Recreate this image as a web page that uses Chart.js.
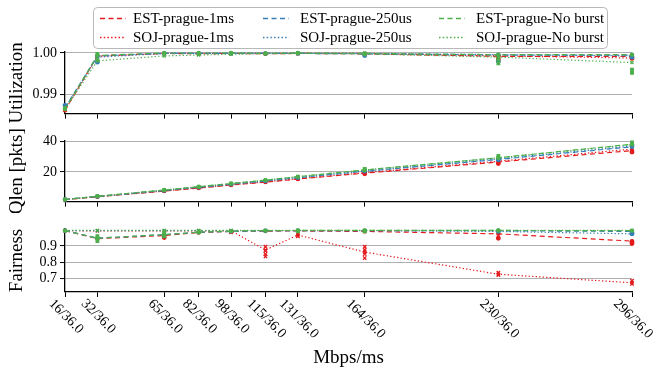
<!DOCTYPE html>
<html>
<head>
<meta charset="utf-8">
<script src="https://cdn.jsdelivr.net/npm/chart.js@4.4.1/dist/chart.umd.min.js"></script>
<style>
  html,body{margin:0;padding:0;background:#fff;}
  body{width:664px;height:381px;position:relative;overflow:hidden;}
  canvas{position:absolute;left:0;}
</style>
</head>
<body>
<canvas id="c1" width="664" height="125" style="top:0"></canvas>
<canvas id="c2" width="664" height="88" style="top:125px"></canvas>
<canvas id="c3" width="664" height="168" style="top:213px"></canvas>
<script>
// ---------------- data ----------------
const xVals   = [16, 32, 65, 82, 98, 115, 131, 164, 230, 296];
const xLabels = ['16/36.0','32/36.0','65/36.0','82/36.0','98/36.0','115/36.0','131/36.0','164/36.0','230/36.0','296/36.0'];
const seriesNames = ['EST-prague-1ms','EST-prague-250us','EST-prague-No burst','SOJ-prague-1ms','SOJ-prague-250us','SOJ-prague-No burst'];

// Utilization
const utilEst1ms   = [0.9862, 0.9993, 0.9999, 0.9998, 0.9999, 0.9998, 0.9999, 0.9998, 0.9992, 0.9992];
const utilEst250us = [0.9868, 0.9993, 0.9999, 0.9999, 0.9999, 0.9999, 0.9999, 0.9998, 0.9995, 0.9995];
const utilEstNB    = [0.9865, 0.9994, 1.0000, 1.0000, 1.0000, 0.9999, 1.0000, 0.9999, 0.9996, 0.9996];
const utilSoj1ms   = [0.9862, 0.9992, 0.9999, 0.9999, 0.9999, 0.9999, 0.9999, 0.9999, 0.9993, 0.9988];
const utilSoj250us = [0.9868, 0.9990, 0.9999, 0.9999, 0.9999, 0.9999, 0.9999, 0.9999, 0.9996, 0.9993];
const utilSojNB    = [0.9865, 0.9981, 0.9993, 0.9995, 0.9997, 0.9998, 0.9999, 0.9998, 0.9990, 0.9977];

// Queue length [pkts]
const qlenEst1ms   = [1.8, 3.7, 7.4, 9.4, 11.4, 13.3, 15.3, 19.2, 26.5, 34.0];
const qlenEst250us = [1.9, 3.9, 7.8, 9.9, 11.9, 14.0, 16.2, 20.4, 28.2, 36.5];
const qlenEstNB    = [1.9, 4.0, 8.1, 10.3, 12.4, 14.6, 16.9, 21.3, 29.3, 38.2];
const qlenSoj1ms   = [1.8, 3.7, 7.5, 9.5, 11.5, 13.5, 15.5, 19.5, 27.0, 35.0];
const qlenSoj250us = [1.9, 3.9, 7.9, 10.0, 12.0, 14.1, 16.3, 20.6, 28.5, 37.0];
const qlenSojNB    = [1.9, 4.0, 8.1, 10.3, 12.4, 14.6, 16.9, 21.3, 29.3, 38.0];

// Fairness
const fairEst1ms   = [0.995, 0.945, 0.965, 0.983, 0.990, 0.992, 0.993, 0.990, 0.975, 0.930];
const fairEst250us = [0.995, 0.948, 0.970, 0.985, 0.990, 0.994, 0.995, 0.995, 0.994, 0.990];
const fairEstNB    = [0.995, 0.948, 0.970, 0.985, 0.992, 0.995, 0.996, 0.996, 0.996, 0.995];
const fairSoj1ms   = [0.995, 0.993, 0.993, 0.994, 0.994, 0.875, 0.968, 0.862, 0.725, 0.672];
const fairSoj250us = [0.995, 0.995, 0.995, 0.995, 0.995, 0.995, 0.995, 0.995, 0.990, 0.975];
const fairSojNB    = [0.996, 0.996, 0.996, 0.996, 0.996, 0.996, 0.996, 0.996, 0.996, 0.996];

// individual run values (scattered markers), one list per x category
const utilRunsNB   = [[0.9868], [0.9983, 0.9998], [], [], [], [], [], [0.9997], [0.9975, 0.9985], [0.9952, 0.9960]];
const utilRuns250  = [[0.9874], [0.9978], [], [], [], [], [], [0.9994], [0.9980], [0.9990]];
const utilRuns1ms  = [[], [], [], [], [], [], [], [], [0.9985], [0.9987]];
const qlenRunsNB   = [[], [], [], [], [], [], [], [22.0], [30.5], [39.3]];
const qlenRuns250  = [[], [], [], [], [], [], [], [], [28.0], [37.5]];
const qlenRuns1ms  = [[], [], [], [], [], [], [], [18.8], [25.5], [33.0]];
const fairRunsNB   = [[], [0.93, 0.96], [0.96, 0.985], [0.99], [], [], [0.99], [0.99], [], []];
const fairRuns250  = [[], [], [], [], [], [], [], [], [0.99], [0.975, 0.98]];
const fairRunsEst1 = [[], [], [0.952], [], [], [], [], [], [0.948], [0.915, 0.925]];
const fairRunsSoj1 = [[], [], [], [], [0.985], [0.895, 0.87, 0.85, 0.835], [0.975, 0.96], [0.895, 0.875, 0.85, 0.825], [0.735, 0.72], [0.685, 0.665]];

// y ticks
const utilTicks = [0.99, 1.00];
const qlenTicks = [20, 40];
const fairTicks = [0.7, 0.8, 0.9];

// ---------------- styling ----------------
const RED = '#e41a1c', BLUE = '#377eb8', GREEN = '#4daf4a';
const SERIF = '"Liberation Serif", "DejaVu Serif", serif';
const DASH = [5, 3.5];
const DOT = [1.3, 2.2];

function pts(arr){ return arr.map((v,i)=>({x:xVals[i], y:v})); }
function runPts(runs){ const o=[]; runs.forEach((l,i)=>l.forEach(v=>o.push({x:xVals[i], y:v}))); return o; }

function lineDs(data, color, est, order){
  return {
    type:'line', data:pts(data), borderColor:color, backgroundColor:color,
    borderWidth:1.2, borderDash: est ? DASH : DOT, fill:false, tension:0,
    pointRadius: est ? 1.6 : 2.2, pointStyle: est ? 'circle' : 'crossRot',
    pointBorderWidth: 1.2, pointBorderColor:color, pointBackgroundColor:color,
    order: order, clip:false
  };
}
function runDs(runs, color, style, order){
  return {
    type:'scatter', data:runPts(runs), borderColor:color, backgroundColor:color,
    pointRadius: style==='crossRot'?2.4:1.8, pointStyle:style, pointBorderWidth:1.3,
    showLine:false, order:order, clip:false
  };
}

function makeOptions(yMin, yMax, yTicks, yTitle, fmt, padTop, xHeight){
  return {
    responsive:false, animation:false, devicePixelRatio:1,
    layout:{padding:{top:padTop, right:32, left:0, bottom:0}},
    plugins:{legend:{display:false}, tooltip:{enabled:false}},
    scales:{
      x:{
        type:'linear', min:16, max:296,
        afterBuildTicks(s){ s.ticks = xVals.map(v=>({value:v})); },
        afterFit(s){ s.height = xHeight; },
        ticks:{display:false},
        grid:{drawOnChartArea:false, drawTicks:true, tickLength:5, color:'#000', tickWidth:1},
        border:{display:true, color:'#000', width:1.3}
      },
      y:{
        min:yMin, max:yMax,
        afterBuildTicks(s){ s.ticks = yTicks.map(v=>({value:v})); },
        afterFit(s){ s.width = 65; },
        ticks:{font:{family:SERIF, size:14}, color:'#000', padding:3, callback:fmt},
        grid:{color:'#b0b0b0', lineWidth:1.1, drawTicks:true, tickLength:5, tickColor:'#000', tickWidth:1},
        border:{display:true, color:'#000', width:1.3},
        title:{display:true, text:yTitle, font:{family:SERIF, size:19}, color:'#000', padding:{top:6, bottom:0}}
      }
    }
  };
}

// legend drawn onto the top chart
const legendPlugin = {
  id:'boxLegend',
  afterDraw(chart){
    const ctx = chart.ctx;
    ctx.save();
    const bx=93.5, by=7.5, bw=514, bh=41, r=4;
    ctx.beginPath();
    ctx.moveTo(bx+r,by); ctx.lineTo(bx+bw-r,by); ctx.quadraticCurveTo(bx+bw,by,bx+bw,by+r);
    ctx.lineTo(bx+bw,by+bh-r); ctx.quadraticCurveTo(bx+bw,by+bh,bx+bw-r,by+bh);
    ctx.lineTo(bx+r,by+bh); ctx.quadraticCurveTo(bx,by+bh,bx,by+bh-r);
    ctx.lineTo(bx,by+r); ctx.quadraticCurveTo(bx,by,bx+r,by); ctx.closePath();
    ctx.fillStyle='rgba(255,255,255,0.85)'; ctx.fill();
    ctx.strokeStyle='#b8b8b8'; ctx.lineWidth=1; ctx.stroke();
    const colors=[RED,BLUE,GREEN,RED,BLUE,GREEN];
    const sx=[100,263,439], tx=[133,300,476], ry=[18.5,37.5];
    ctx.font='15px '+SERIF; ctx.textBaseline='middle'; ctx.textAlign='left';
    seriesNames.forEach((n,i)=>{
      const col=i%3, row=Math.floor(i/3);
      ctx.save();
      ctx.strokeStyle=colors[i]; ctx.lineWidth=row===0?1.3:1.5;
      ctx.setLineDash(row===0?DASH:[1.5,2.2]);
      ctx.beginPath(); ctx.moveTo(sx[col], ry[row]); ctx.lineTo(sx[col]+26, ry[row]); ctx.stroke();
      ctx.restore();
      ctx.fillStyle='#000'; ctx.fillText(n, tx[col], ry[row]+0.5);
    });
    ctx.restore();
  }
};

// rotated x tick labels + x title on the bottom chart
const xLabelPlugin = {
  id:'xLabels',
  afterDraw(chart){
    const ctx = chart.ctx, xs = chart.scales.x;
    ctx.save();
    ctx.fillStyle='#000';
    ctx.font='14px '+SERIF;
    ctx.textAlign='center'; ctx.textBaseline='middle';
    xVals.forEach((v,i)=>{
      const px = xs.getPixelForValue(v);
      const w = ctx.measureText(xLabels[i]).width, h = 10;
      const d = (w+h)*Math.SQRT1_2;
      ctx.save();
      ctx.translate(px+1, xs.top + 6 + d/2);
      ctx.rotate(Math.PI/4);
      ctx.fillText(xLabels[i], 0, 0);
      ctx.restore();
    });
    ctx.font='19px '+SERIF;
    ctx.fillText('Mbps/ms', (chart.chartArea.left+chart.chartArea.right)/2, chart.chartArea.bottom + 66);
    ctx.restore();
  }
};

function datasets(e1,e2,e3,s1,s2,s3, rNB, r250, r1a, r1b){
  const ds = [
    lineDs(e3, GREEN, true, 0), lineDs(s3, GREEN, false, 0),
    lineDs(e2, BLUE, true, 1), lineDs(s2, BLUE, false, 1),
    lineDs(e1, RED, true, 2), lineDs(s1, RED, false, 2),
    runDs(rNB, GREEN, 'rect', 0), runDs(r250, BLUE, 'circle', 1)
  ];
  if(r1a) ds.push(runDs(r1a, RED, 'circle', 2));
  if(r1b) ds.push(runDs(r1b, RED, 'crossRot', 2));
  return ds;
}

new Chart(document.getElementById('c1'), {
  type:'line',
  data:{datasets:datasets(utilEst1ms,utilEst250us,utilEstNB,utilSoj1ms,utilSoj250us,utilSojNB, utilRunsNB, utilRuns250, utilRuns1ms, null)},
  options:makeOptions(0.98541, 1.00024, utilTicks, 'Utilization', v=>Number(v).toFixed(2), 52, 10),
  plugins:[legendPlugin]
});
new Chart(document.getElementById('c2'), {
  type:'line',
  data:{datasets:datasets(qlenEst1ms,qlenEst250us,qlenEstNB,qlenSoj1ms,qlenSoj250us,qlenSojNB, qlenRunsNB, qlenRuns250, qlenRuns1ms, null)},
  options:makeOptions(0.5, 40.3, qlenTicks, 'Qlen [pkts]', v=>String(v), 16, 10)
});
new Chart(document.getElementById('c3'), {
  type:'line',
  data:{datasets:datasets(fairEst1ms,fairEst250us,fairEstNB,fairSoj1ms,fairSoj250us,fairSojNB, fairRunsNB, fairRuns250, fairRunsEst1, fairRunsSoj1)},
  options:makeOptions(0.615, 1.005, fairTicks, 'Fairness', v=>Number(v).toFixed(1), 16, 89),
  plugins:[xLabelPlugin]
});
</script>
</body>
</html>
